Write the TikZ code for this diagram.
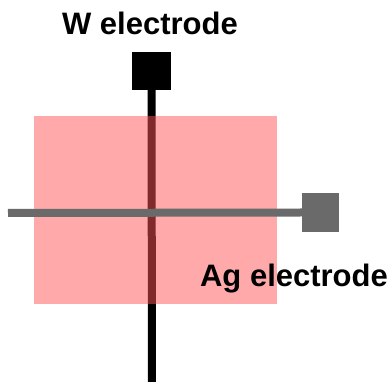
\documentclass[tikz,border=0pt]{standalone}
\usepackage{fontspec}
\setmainfont{Liberation Sans}
\begin{document}
\begin{tikzpicture}[x=1pt,y=-1pt,
  lbl/.style={font=\fontsize{31}{36}\selectfont\bfseries, inner sep=0pt, anchor=base},
  wire/.style={line width=8pt},
  pad/.style={inner sep=0pt, draw=none}]
\useasboundingbox (0,0) rectangle (392,382);
% W electrode (vertical)
\node[pad, fill=black, minimum width=39pt, minimum height=38pt] (wpad) at (151.5,71) {};
\coordinate (wend) at (152,382);
\draw[wire, black] (wpad.south) -- (wend);
% sample
\node[pad, fill={rgb,1:red,1;green,0.33;blue,0.34}, fill opacity=0.5, minimum width=243pt, minimum height=188pt] (sample) at (155.5,210) {};
% Ag electrode (horizontal)
\node[pad, fill={rgb,255:red,106;green,106;blue,106}, minimum width=37pt, minimum height=39pt] (agpad) at (320.5,212.5) {};
\coordinate (agend) at (8,213);
\draw[wire, color={rgb,255:red,106;green,106;blue,106}] (agend) -- (agpad.west);
% labels
\node[lbl] (wlbl) at (150,35) {W electrode};
\node[lbl] (aglbl) at (294,287) {Ag electrode};
\end{tikzpicture}
\end{document}
